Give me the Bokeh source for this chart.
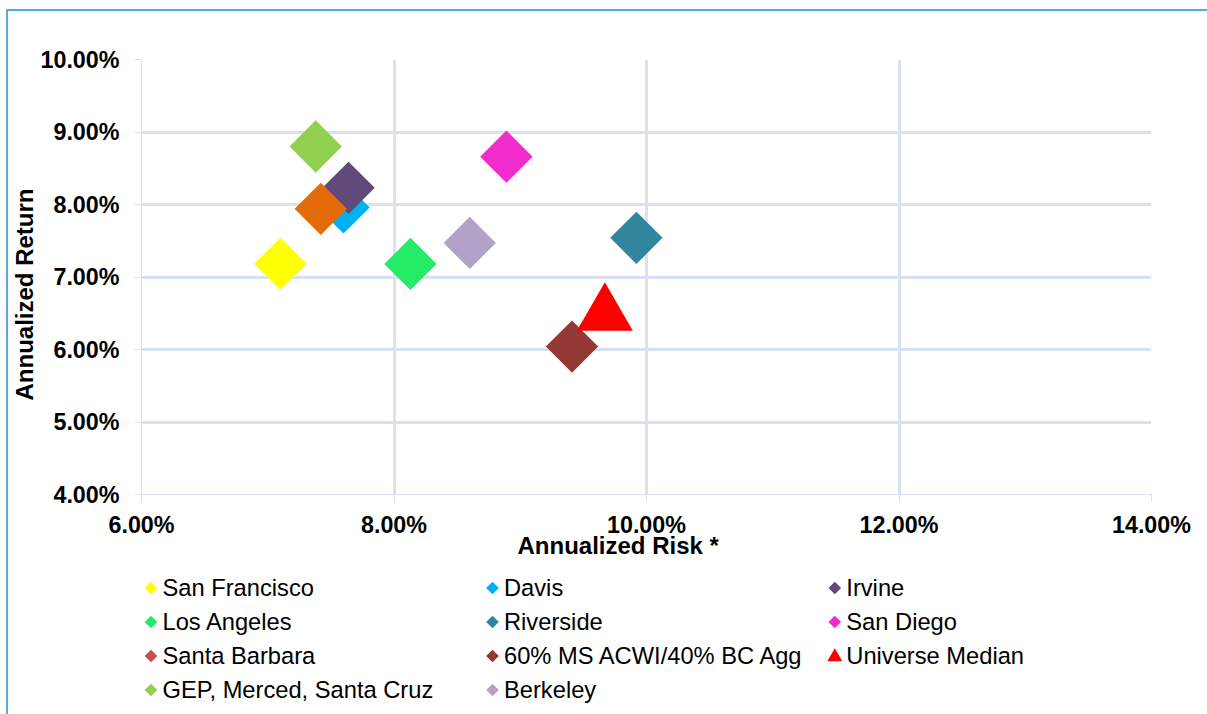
import math
from bokeh.plotting import figure
from bokeh.layouts import column
from bokeh.core.properties import value
from bokeh.models import (Range1d, FixedTicker, PrintfTickFormatter, Title,
                          ColumnDataSource)
from bokeh.embed import file_html
from bokeh.resources import INLINE

# Risk / return of each portfolio (annualized, in percent)
names = ["San Francisco", "Davis", "Irvine", "Los Angeles", "Riverside",
         "San Diego", "Santa Barbara", "60% MS ACWI/40% BC Agg",
         "Universe Median", "GEP, Merced, Santa Cruz", "Berkeley"]
risk = [7.10, 7.60, 7.64, 8.13, 9.92, 8.89, 7.42, 9.41, 9.67, 7.38, 8.60]
ret = [7.18, 7.96, 8.23, 7.18, 7.54, 8.66, 7.94, 6.04, 6.48, 8.80, 7.47]
point_colors = ["#FFFF00", "#00B0F0", "#604A7B", "#26EB67", "#31859C",
                "#F22BCC", "#E36C09", "#953735", "#FF0000", "#92D050", "#B3A2C7"]
legend_colors = ["#FFFF00", "#00B0F0", "#604A7B", "#26EB67", "#31859C",
                 "#F22BCC", "#C0504D", "#953735", "#FF0000", "#92D050", "#B3A2C7"]
shapes = ["diamond"] * 8 + ["triangle"] + ["diamond"] * 2

x_ticks = [6, 8, 10, 12, 14]
y_ticks = [4, 5, 6, 7, 8, 9, 10]

FONT = "Liberation Sans"
GRID = "#D9E1F0"

p = figure(frame_width=1010, frame_height=435,
           min_border_left=133, min_border_right=56,
           min_border_top=48, min_border_bottom=75,
           x_range=Range1d(6, 14), y_range=Range1d(4, 10),
           output_backend="svg", toolbar_location=None)
p.outline_line_color = None
p.background_fill_color = "white"
p.border_fill_color = "white"

for ax, ticks in ((p.xaxis, x_ticks), (p.yaxis, y_ticks)):
    ax.ticker = FixedTicker(ticks=ticks)
    ax.formatter = PrintfTickFormatter(format="%.2f%%")
    ax.axis_line_color = GRID
    ax.axis_line_width = 1
    ax.major_tick_line_color = GRID
    ax.major_tick_out = 7
    ax.major_tick_in = 0
    ax.minor_tick_line_color = None
    ax.major_label_text_font = FONT
    ax.major_label_text_font_size = "23.3px"
    ax.major_label_text_font_style = "bold"
    ax.major_label_text_color = "black"
p.xaxis.major_label_standoff = 10
p.yaxis.major_label_standoff = 15

p.xgrid.ticker = FixedTicker(ticks=x_ticks)
p.ygrid.ticker = FixedTicker(ticks=y_ticks)
for g in (p.xgrid, p.ygrid):
    g.grid_line_color = GRID
    g.grid_line_width = 3

# Data points, one renderer per portfolio so later ones sit on top
for i, name in enumerate(names):
    src = ColumnDataSource(dict(x=[risk[i]], y=[ret[i]]))
    if shapes[i] == "triangle":
        p.scatter("x", "y", source=src, marker="triangle", size=56,
                  fill_color=point_colors[i], line_color=None)
    else:
        p.scatter("x", "y", source=src, marker="square", size=37,
                  angle=math.pi / 4, fill_color=point_colors[i], line_color=None)

p.add_layout(Title(text="Annualized Risk *", align="left", offset=376,
                   vertical_align="top",
                   text_font=FONT, text_font_size="24px", text_font_style="bold",
                   text_color="black", standoff=-18), "below")
p.add_layout(Title(text="Annualized Return", align="left", offset=94,
                   text_font=FONT, text_font_size="24px", text_font_style="bold",
                   text_color="black", standoff=0), "left")

# Key under the chart: three columns, filled row by row.
# Its ranges are pixel positions on the page, so the grid below is in pixels.
key = figure(width=1199, height=145, x_range=Range1d(141, 1151),
             y_range=Range1d(714, 569), x_axis_type=None, y_axis_type=None,
             min_border_left=133, min_border_right=56,
             min_border_top=0, min_border_bottom=0,
             output_backend="svg", toolbar_location=None)
key.outline_line_color = None
key.grid.visible = False

col_x = [150.5, 492.0, 834.3]
row_y = [587.5, 621.5, 655.5, 689.5]
kx = [col_x[i % 3] for i in range(len(names))]
ky = [row_y[i // 3] for i in range(len(names))]
key_src = ColumnDataSource(dict(x=kx, y=ky, tx=[v + 11.5 for v in kx],
                                ty=[v - 0.5 for v in ky],
                                name=names, color=legend_colors))
dia = [i for i, s in enumerate(shapes) if s == "diamond"]
tri = [i for i, s in enumerate(shapes) if s == "triangle"]
key.scatter(x=[kx[i] for i in dia], y=[ky[i] for i in dia], marker="square",
            size=9, angle=math.pi / 4, fill_color=[legend_colors[i] for i in dia],
            line_color=None)
key.scatter(x=[kx[i] for i in tri], y=[ky[i] + 1 for i in tri], marker="triangle",
            size=15, fill_color=[legend_colors[i] for i in tri], line_color=None)
key.text(x="tx", y="ty", text="name", source=key_src, text_font=value(FONT),
         text_font_size="23.7px", text_baseline="middle", text_align="left",
         text_color="black")

page = column(p, key, spacing=0)
page.styles = {"margin-left": "6px", "margin-top": "9px",
               "border-left": "2px solid #5AA9DC", "border-top": "2px solid #5AA9DC"}

open("out.html", "w").write(file_html(page, INLINE))
